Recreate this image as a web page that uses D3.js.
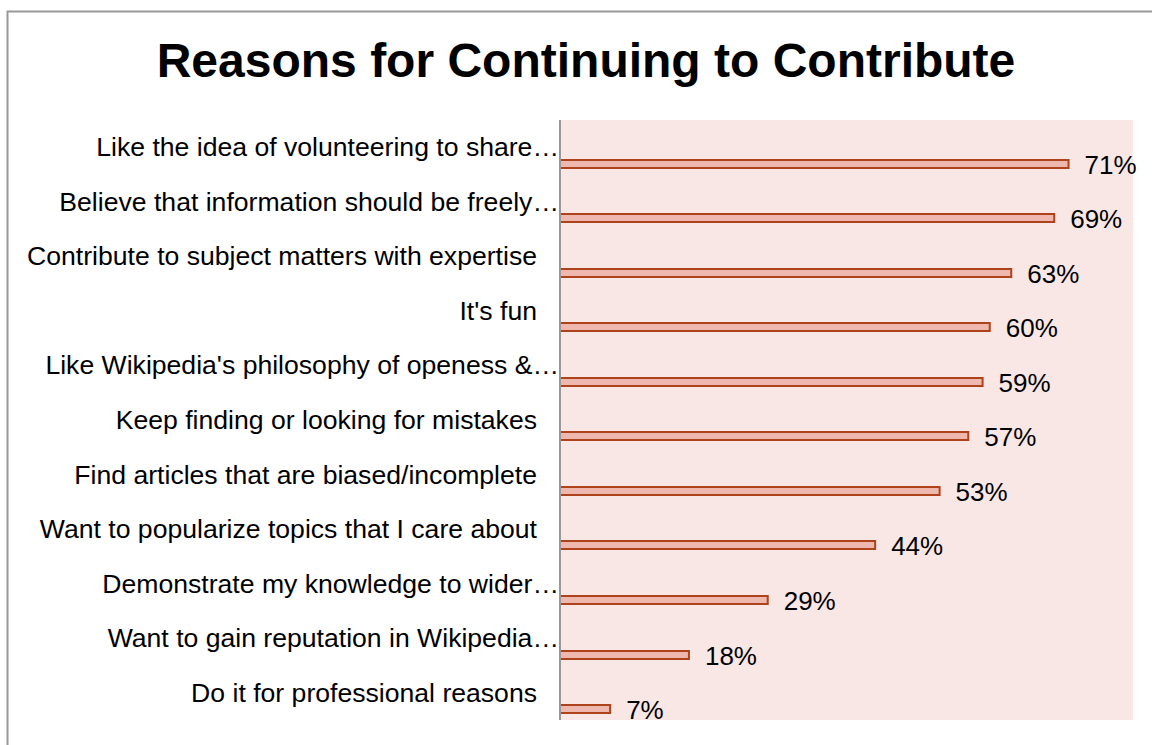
<!DOCTYPE html>
<html>
<head>
<meta charset="utf-8">
<script src="https://cdn.jsdelivr.net/npm/d3@7"></script>
<style>
  body { margin: 0; background: #fff; }
  svg { display: block; font-family: Arial, "Liberation Sans", sans-serif; }
  .frame { fill: none; stroke: #999; stroke-width: 2; }
  .plot-bg { fill: #f9e7e5; }
  .bar { fill: #efb8ae; stroke: #ad421b; stroke-width: 2; }
  .axis-line { stroke: #999; stroke-width: 2; }
  .cat { font-size: 26.6px; fill: #000; }
  .val { font-size: 26px; fill: #000; }
  .title { font-size: 48px; font-weight: bold; fill: #000; }
</style>
</head>
<body>
<svg id="chart" width="1152" height="745"></svg>
<script>
(function() {

// Data
var reasons = [
  "Like the idea of volunteering to share\u2026",
  "Believe that information should be freely\u2026",
  "Contribute to subject matters with expertise",
  "It's fun",
  "Like Wikipedia's philosophy of openess &\u2026",
  "Keep finding or looking for mistakes",
  "Find articles that are biased/incomplete",
  "Want to popularize topics that I care about",
  "Demonstrate my knowledge to wider\u2026",
  "Want to gain reputation in Wikipedia\u2026",
  "Do it for professional reasons"
];
var shares = [0.71, 0.69, 0.63, 0.60, 0.59, 0.57, 0.53, 0.44, 0.29, 0.18, 0.07];
var titleText = "Reasons for Continuing to Contribute";

var width = 1152,
    height = 745,
    plotLeft = 560,
    plotRight = 1133,
    plotTop = 120,
    plotBottom = 720;

var svg = d3.select('#chart');

// Outer frame (runs off the right and bottom edges)
svg.append('rect')
    .attr('class', 'frame')
    .attr('x', 7.5)
    .attr('y', 11.5)
    .attr('width', width + 20)
    .attr('height', height + 20);

svg.append('text')
    .attr('class', 'title')
    .attr('text-anchor', 'middle')
    .attr('x', 586)
    .attr('y', 77)
    .text(titleText);

var x = d3.scaleLinear()
    .domain([0, 0.8])
    .range([plotLeft, plotRight]);

var y = d3.scaleBand()
    .domain(reasons)
    .range([plotTop, plotBottom])
    .padding(0);

// Everything below the plot bottom is cut off
svg.append('clipPath')
    .attr('id', 'clip')
  .append('rect')
    .attr('x', 0)
    .attr('y', 0)
    .attr('width', width)
    .attr('height', plotBottom);

var g = svg.append('g').attr('clip-path', 'url(#clip)');

g.append('rect')
    .attr('class', 'plot-bg')
    .attr('x', plotLeft)
    .attr('y', plotTop)
    .attr('width', plotRight - plotLeft)
    .attr('height', plotBottom - plotTop);

var rows = reasons.map(function(r, i) { return { name: r, value: shares[i] }; });

// Bar sits in the lower part of each band
function barMid(d) { return Math.round(y(d.name) + y.bandwidth() * 0.8); }

g.selectAll('rect.bar')
    .data(rows)
  .enter().append('rect')
    .attr('class', 'bar')
    .attr('x', x(0))
    .attr('y', function(d) { return barMid(d) - 4; })
    .attr('width', function(d) { return x(d.value) - x(0); })
    .attr('height', 8);

g.selectAll('text.val')
    .data(rows)
  .enter().append('text')
    .attr('class', 'val')
    .attr('x', function(d) { return x(d.value) + 16; })
    .attr('y', function(d) { return barMid(d) + 10; })
    .text(function(d) { return Math.round(d.value * 100) + '%'; });

g.append('line')
    .attr('class', 'axis-line')
    .attr('x1', plotLeft)
    .attr('x2', plotLeft)
    .attr('y1', plotTop)
    .attr('y2', plotBottom);

// Category labels, truncated ones run up to the axis
svg.selectAll('text.cat')
    .data(rows)
  .enter().append('text')
    .attr('class', 'cat')
    .attr('text-anchor', 'end')
    .attr('x', function(d) { return /\u2026$/.test(d.name) ? plotLeft - 1 : plotLeft - 23; })
    .attr('y', function(d) { return y(d.name) + y.bandwidth() / 2 + 9; })
    .text(function(d) { return d.name; });

})();
</script>
</body>
</html>
